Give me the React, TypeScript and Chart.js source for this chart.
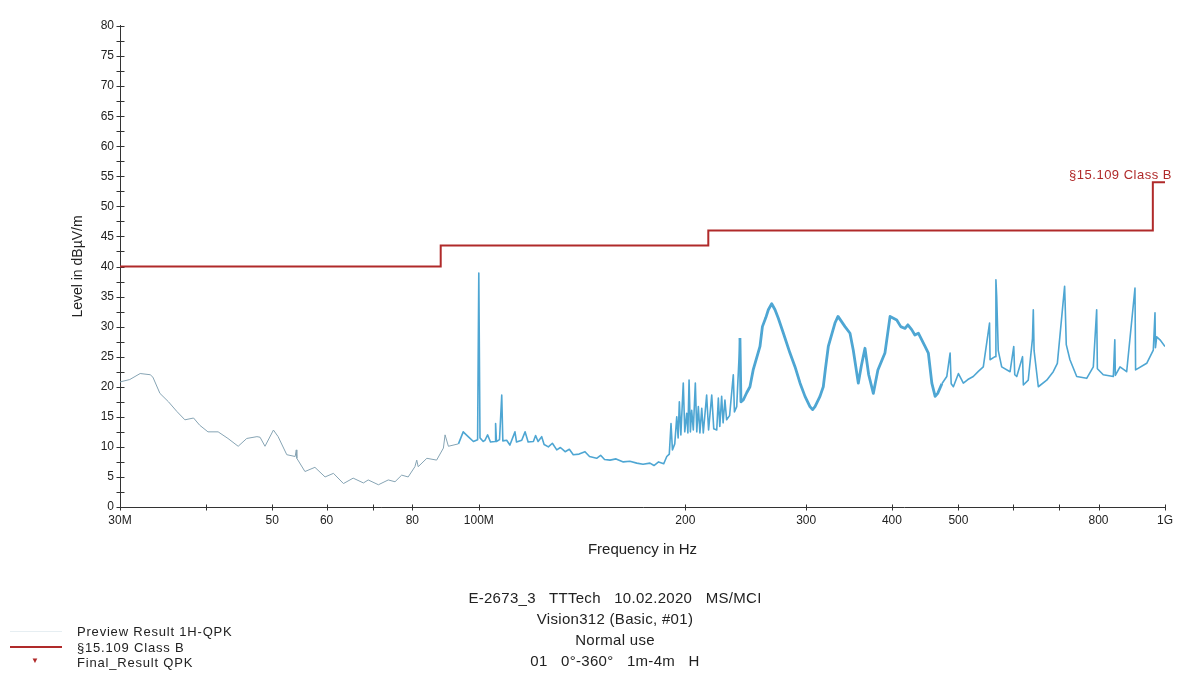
import React, { useEffect, useRef } from 'react';
import { Chart, registerables } from 'chart.js';

Chart.register(...registerables);

// Measured trace (Preview Result 1H-QPK): frequency in MHz, level in dBµV/m
const freqMHz = [
  30.0, 31.0, 32.1, 33.2, 33.5, 34.3, 35.3, 36.3, 37.3, 38.4,
  39.2, 40.3, 41.7, 43.1, 44.6, 45.9, 47.5, 48.0, 48.8, 50.2,
  51.0, 52.5, 54.0, 54.2, 54.3, 55.8, 57.7, 59.7, 61.4, 63.5,
  65.6, 67.9, 69.0, 71.4, 73.8, 75.5, 77.2, 78.9, 80.7, 81.2,
  81.6, 84.0, 86.8, 88.8, 89.3, 90.3, 93.4, 94.9, 96.5, 98.2,
  99.6, 100.0, 100.4, 101.5, 102.1, 103.0, 104.0, 105.6, 105.8, 106.1,
  107.2, 108.0, 108.4, 109.8, 111.0, 112.9, 113.5, 115.5, 116.8, 118.0,
  120.1, 121.0, 122.0, 123.5, 124.5, 126.3, 128.0, 129.9, 131.5, 133.6,
  135.5, 137.3, 140.0, 142.8, 145.0, 148.5, 150.5, 152.5, 155.3, 158.5,
  162.4, 166.0, 169.9, 173.5, 177.6, 180.0, 182.8, 186.0, 187.9, 189.5,
  190.6, 191.5, 193.0, 194.3, 195.2, 196.0, 197.0, 198.6, 199.6, 200.9,
  201.7, 202.5, 203.4, 204.3, 205.4, 206.8, 207.8, 208.9, 210.0, 211.3,
  212.4, 214.8, 216.2, 218.5, 220.0, 222.2, 223.4, 224.5, 225.9, 227.0,
  228.4, 229.7, 232.0, 234.9, 235.8, 237.6, 240.2, 241.0, 242.9, 245.7,
  248.4, 251.1, 256.9, 259.0, 262.0, 264.2, 267.2, 270.2, 273.2, 277.9,
  284.1, 289.0, 293.9, 298.8, 303.8, 306.5, 309.0, 314.2, 317.7, 320.0,
  323.1, 330.4, 333.8, 341.7, 347.5, 351.3, 357.3, 361.0, 365.4, 370.0,
  375.8, 381.6, 390.7, 397.5, 406.5, 412.0, 418.0, 422.0, 427.4, 432.0,
  437.1, 447.0, 452.0, 457.3, 462.4, 466.4, 473.0, 480.8, 486.2, 488.0,
  491.6, 500.0, 508.3, 516.0, 525.5, 535.0, 543.5, 555.0, 556.0, 565.3,
  567.0, 568.5, 571.5, 578.1, 594.6, 602.0, 604.0, 608.1, 620.0, 621.7,
  632.0, 641.0, 642.8, 644.5, 653.7, 672.4, 687.3, 696.8, 714.0, 715.5,
  718.0, 726.9, 743.6, 768.9, 786.2, 795.1, 797.0, 812.9, 840.8, 845.0,
  846.5, 859.9, 879.3, 904.2, 906.0, 940.5, 961.5, 967.0, 968.5, 972.6,
  983.4, 1000.0,
];
const levelDb = [
  20.8, 21.2, 22.2, 22.0, 21.6, 18.9, 17.5, 15.9, 14.5, 14.8,
  13.6, 12.5, 12.5, 11.4, 10.1, 11.4, 11.7, 11.6, 10.1, 12.8,
  11.7, 8.7, 8.4, 9.5, 8.1, 5.9, 6.6, 5.0, 5.6, 3.9,
  4.8, 4.0, 4.5, 3.7, 4.5, 4.2, 5.3, 5.0, 6.7, 7.8,
  6.7, 8.1, 7.8, 9.8, 12.0, 10.1, 10.5, 12.5, 11.7, 10.9,
  11.2, 38.9, 11.5, 10.9, 11.1, 12.0, 10.8, 10.9, 13.9, 10.9,
  11.2, 18.6, 11.0, 11.1, 10.3, 12.5, 10.8, 11.1, 12.5, 10.8,
  10.9, 11.9, 10.9, 11.7, 10.4, 10.0, 10.6, 9.5, 9.9, 9.2,
  9.6, 8.7, 8.8, 9.2, 8.4, 8.1, 8.6, 7.9, 7.8, 8.0,
  7.5, 7.6, 7.3, 7.1, 7.3, 6.9, 7.5, 7.2, 8.4, 8.8,
  13.9, 9.5, 10.5, 15.0, 11.5, 17.5, 12.0, 20.6, 12.5, 15.6,
  12.3, 21.1, 12.5, 16.1, 12.8, 20.6, 12.5, 16.7, 12.3, 16.4,
  12.3, 18.6, 12.8, 18.6, 13.0, 12.8, 18.1, 13.4, 18.4, 14.0,
  17.8, 14.5, 15.2, 22.0, 15.8, 16.7, 28.1, 17.5, 17.8, 19.0,
  20.0, 22.8, 26.7, 30.0, 31.5, 32.8, 33.8, 32.8, 31.4, 28.9,
  25.6, 23.3, 20.6, 18.4, 16.7, 16.2, 16.7, 18.4, 20.0, 23.0,
  26.7, 30.6, 31.7, 30.0, 28.9, 26.1, 20.6, 23.5, 26.4, 22.0,
  18.9, 22.8, 25.6, 31.7, 31.1, 30.0, 29.7, 30.3, 29.5, 28.6,
  28.9, 26.7, 25.6, 20.6, 18.4, 18.9, 20.5, 21.7, 25.6, 20.5,
  20.0, 22.2, 20.6, 21.2, 21.7, 22.6, 23.3, 30.6, 24.5, 25.0,
  37.8, 35.0, 26.0, 23.3, 22.5, 26.7, 22.0, 21.7, 25.0, 20.3,
  21.1, 28.0, 32.8, 26.0, 20.0, 21.1, 22.5, 23.9, 36.7, 33.3,
  27.0, 24.5, 21.7, 21.4, 23.3, 32.8, 23.0, 22.0, 21.7, 27.8,
  21.9, 23.3, 22.5, 36.4, 22.8, 23.9, 26.1, 32.3, 26.5, 28.3,
  27.8, 26.7,
];

// §15.109 Class B limit
const limitFreq = [30, 88, 88, 216, 216, 960, 960, 1000];
const limitLevel = [40, 40, 43.5, 43.5, 46, 46, 54, 54];

// Axes
const xTickValues = [30, 40, 50, 60, 70, 80, 100, 200, 300, 400, 500, 600, 700, 800, 1000];
const xTickLabels = ['30M', '', '50', '60', '', '80', '100M', '200', '300', '400', '500', '', '', '800', '1G'];
const yMin = 0;
const yMax = 80;
const yMinorStep = 2.5;
const yLabelStep = 5;

const footerLines = [
  'E-2673_3   TTTech   10.02.2020   MS/MCI',
  'Vision312 (Basic, #01)',
  'Normal use',
  '01   0°-360°   1m-4m   H',
];
const legendItems = ['Preview Result 1H-QPK', '§15.109 Class B', 'Final_Result QPK'];
const limitLabel = '§15.109 Class B';

const FONT = '"Liberation Sans", Arial, sans-serif';
const TRACE_COLOR = '#4ea6d3';
const TRACE_COLOR_LOW = '#86a4b4';
const LIMIT_COLOR = '#b02a2a';

const axisPlugin = {
  id: 'axisCross',
  beforeDatasetsDraw(chart: any) {
    const { ctx, chartArea, scales } = chart;
    ctx.save();
    ctx.strokeStyle = '#333';
    ctx.lineWidth = 1;
    ctx.beginPath();
    const l = Math.round(chartArea.left) + 0.5;
    const b = Math.round(chartArea.bottom) + 0.5;
    ctx.moveTo(l, chartArea.top - 1);
    ctx.lineTo(l, b);
    ctx.lineTo(chartArea.right + 1, b);
    for (let v = yMin; v <= yMax; v += yMinorStep) {
      const y = Math.round(scales.y.getPixelForValue(v)) + 0.5;
      ctx.moveTo(l - 4, y);
      ctx.lineTo(l + 4, y);
    }
    for (const v of xTickValues) {
      const x = Math.round(scales.x.getPixelForValue(v)) + 0.5;
      ctx.moveTo(x, b - 3);
      ctx.lineTo(x, b + 3);
    }
    ctx.stroke();
    ctx.restore();
  },
};

const segWidth = (f: number) => (f < 92 ? 1 : f >= 240 && f < 470 ? 2.8 : 1.6);

export default function App() {
  const canvasRef = useRef<HTMLCanvasElement | null>(null);

  useEffect(() => {
    const canvas = canvasRef.current;
    if (!canvas) return;
    const tracePoints = freqMHz.map((f, i) => ({ x: f, y: levelDb[i] }));
    const limitPoints = limitFreq.map((f, i) => ({ x: f, y: limitLevel[i] }));

    const chart = new Chart(canvas, {
      type: 'line',
      data: {
        datasets: [
          {
            label: 'Preview Result 1H-QPK',
            data: tracePoints,
            borderColor: TRACE_COLOR,
            borderWidth: 1.5,
            pointRadius: 0,
            tension: 0,
            borderJoinStyle: 'round',
            segment: {
              borderColor: (c: any) => (c.p0.parsed.x < 92 ? TRACE_COLOR_LOW : TRACE_COLOR),
              borderWidth: (c: any) => segWidth(c.p0.parsed.x),
            },
          } as any,
          {
            label: '§15.109 Class B',
            data: limitPoints,
            borderColor: LIMIT_COLOR,
            borderWidth: 2,
            pointRadius: 0,
            tension: 0,
          },
        ],
      },
      options: {
        animation: false,
        responsive: false,
        events: [],
        layout: { padding: { left: 68, right: 17, top: 26, bottom: 114 } },
        plugins: { legend: { display: false }, tooltip: { enabled: false }, title: { display: false } },
        scales: {
          x: {
            type: 'logarithmic',
            min: 30,
            max: 1000,
            grid: { display: false, drawTicks: false },
            border: { display: false },
            afterBuildTicks: (scale: any) => {
              scale.ticks = xTickValues.map((v) => ({ value: v }));
            },
            afterFit: (scale: any) => {
              scale.height = 52;
              scale.paddingLeft = 0;
              scale.paddingRight = 0;
            },
            ticks: {
              autoSkip: false,
              maxRotation: 0,
              minRotation: 0,
              padding: 6,
              color: '#222',
              font: { family: FONT, size: 12 },
              callback: (v: any) => {
                const i = xTickValues.indexOf(Number(v));
                return i >= 0 ? xTickLabels[i] : '';
              },
            },
            title: {
              display: true,
              text: 'Frequency in Hz',
              color: '#222',
              font: { family: FONT, size: 15 },
              padding: { top: 0, bottom: 0 },
            },
          },
          y: {
            type: 'linear',
            min: yMin,
            max: yMax,
            grid: { display: false, drawTicks: false },
            border: { display: false },
            afterBuildTicks: (scale: any) => {
              const t: any[] = [];
              for (let v = yMin; v <= yMax; v += yMinorStep) t.push({ value: v });
              scale.ticks = t;
            },
            afterFit: (scale: any) => {
              scale.width = 52;
              scale.paddingTop = 0;
              scale.paddingBottom = 0;
            },
            ticks: {
              autoSkip: false,
              padding: 6,
              color: '#222',
              font: { family: FONT, size: 12 },
              callback: (v: any) => (Number(v) % yLabelStep === 0 ? String(v) : ''),
            },
            title: {
              display: true,
              text: 'Level in dBµV/m',
              color: '#222',
              font: { family: FONT, size: 14 },
              padding: { top: 2, bottom: 0 },
            },
          },
        },
      },
      plugins: [axisPlugin],
    } as any);

    return () => chart.destroy();
  }, []);

  return (
    <div
      style={{
        position: 'fixed',
        left: 0,
        top: 0,
        width: 1182,
        height: 673,
        background: '#fff',
        fontFamily: FONT,
        color: '#222',
      }}
    >
      <canvas ref={canvasRef} width={1182} height={673} style={{ position: 'absolute', left: 0, top: 0 }} />
      <div
        style={{
          position: 'absolute',
          right: 10,
          top: 167,
          fontSize: 13,
          letterSpacing: 0.5,
          color: LIMIT_COLOR,
          whiteSpace: 'nowrap',
        }}
      >
        {limitLabel}
      </div>
      <div
        style={{
          position: 'absolute',
          left: 365,
          width: 500,
          top: 587,
          textAlign: 'center',
          fontSize: 15,
          letterSpacing: 0.3,
          lineHeight: '21px',
          whiteSpace: 'pre',
        }}
      >
        {footerLines.map((t, i) => (
          <div key={i}>{t}</div>
        ))}
      </div>
      <div
        style={{
          position: 'absolute',
          left: 77,
          top: 624,
          fontSize: 13,
          letterSpacing: 0.8,
          lineHeight: '15.5px',
          whiteSpace: 'nowrap',
        }}
      >
        {legendItems.map((t, i) => (
          <div key={i}>{t}</div>
        ))}
      </div>
      <div style={{ position: 'absolute', left: 10, top: 631, width: 52, height: 1, background: '#e6eef2' }} />
      <div style={{ position: 'absolute', left: 10, top: 646, width: 52, height: 2, background: LIMIT_COLOR }} />
      <div
        style={{
          position: 'absolute',
          left: 31,
          top: 656,
          fontSize: 8,
          color: LIMIT_COLOR,
        }}
      >
        ▼
      </div>
    </div>
  );
}
